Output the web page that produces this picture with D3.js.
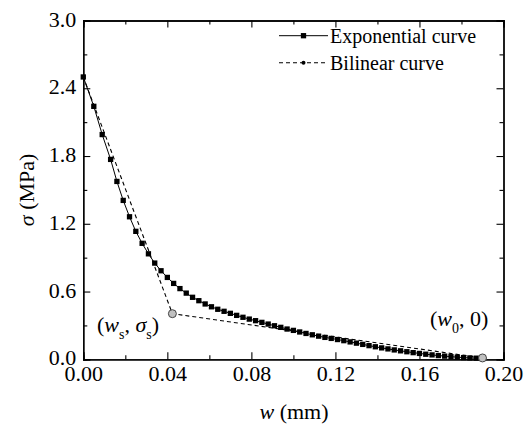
<!DOCTYPE html>
<html>
<head>
<meta charset="utf-8">
<script src="https://cdn.jsdelivr.net/npm/d3@7"></script>
<style>
  body { margin: 0; background: #fff; }
  svg text { font-family: "Liberation Serif", "Times New Roman", Times, "DejaVu Serif", serif !important; fill: #000; }
</style>
</head>
<body>
<script>
// exponential softening curve (w in mm, sigma in MPa)
const expW = [0, 0.005, 0.009, 0.013, 0.016, 0.019, 0.022, 0.025, 0.028, 0.031,
  0.034, 0.037, 0.040, 0.043, 0.046, 0.049, 0.052, 0.055, 0.058, 0.061,
  0.064, 0.067, 0.070, 0.073, 0.076, 0.079, 0.082, 0.085, 0.088, 0.091,
  0.094, 0.097, 0.100, 0.103, 0.106, 0.109, 0.112, 0.115, 0.118, 0.121,
  0.124, 0.127, 0.130, 0.133, 0.136, 0.139, 0.142, 0.145, 0.148, 0.151,
  0.154, 0.157, 0.160, 0.163, 0.166, 0.169, 0.172, 0.175, 0.178, 0.181,
  0.184, 0.187];
const expSigma = [2.50, 2.24, 1.99, 1.77, 1.575, 1.407, 1.262, 1.133, 1.027, 0.934,
  0.852, 0.784, 0.725, 0.672, 0.626, 0.586, 0.549, 0.519, 0.490, 0.465,
  0.443, 0.425, 0.407, 0.389, 0.372, 0.356, 0.342, 0.327, 0.312, 0.297,
  0.283, 0.268, 0.256, 0.242, 0.229, 0.217, 0.205, 0.194, 0.185, 0.175,
  0.165, 0.154, 0.143, 0.132, 0.121, 0.111, 0.101, 0.092, 0.083, 0.075,
  0.067, 0.059, 0.052, 0.045, 0.039, 0.033, 0.028, 0.023, 0.019, 0.015,
  0.012, 0.010];

// bilinear curve
const biW = [0, 0.0424, 0.190];
const biSigma = [2.50, 0.404, 0.012];

// highlighted points (ws, sigma_s) and (w0, 0)
const keyW = [0.0424, 0.190];
const keySigma = [0.404, 0.012];

const xTicks = [0, 0.04, 0.08, 0.12, 0.16, 0.20];
const xMinor = [0.02, 0.06, 0.10, 0.14, 0.18];
const yTicks = [0, 0.6, 1.2, 1.8, 2.4, 3.0];
const yMinor = [0.3, 0.9, 1.5, 2.1, 2.7];

const legendNames = ["Exponential curve", "Bilinear curve"];

const W = 530, H = 433;
const pLeft = 83.3, pRight = 503.5, pTop = 20.5, pBottom = 359.3;
const serif = "'Liberation Serif', 'Times New Roman', Times, serif";

const svg = d3.select("body").append("svg")
  .attr("width", W)
  .attr("height", H)
  .attr("font-family", serif);

const x = d3.scaleLinear().domain([0, 0.2]).range([pLeft, pRight]);
const y = d3.scaleLinear().domain([0, 3]).range([pBottom, pTop]);

// minor ticks first (no labels)
svg.append("g").attr("transform", `translate(0,${pBottom})`)
  .call(d3.axisBottom(x).tickValues(xMinor).tickSize(-4).tickFormat(""));
svg.append("g").attr("transform", `translate(0,${pTop})`)
  .call(d3.axisTop(x).tickValues(xMinor).tickSize(-4).tickFormat(""));
svg.append("g").attr("transform", `translate(${pLeft},0)`)
  .call(d3.axisLeft(y).tickValues(yMinor).tickSize(-4).tickFormat(""));
svg.append("g").attr("transform", `translate(${pRight},0)`)
  .call(d3.axisRight(y).tickValues(yMinor).tickSize(-4).tickFormat(""));

// major ticks
let xb = svg.append("g").attr("transform", `translate(0,${pBottom})`)
  .call(d3.axisBottom(x).tickValues(xTicks).tickSize(-7).tickPadding(6).tickFormat(d3.format(".2f")));
svg.append("g").attr("transform", `translate(0,${pTop})`)
  .call(d3.axisTop(x).tickValues(xTicks).tickSize(-7).tickFormat(""));
let yl = svg.append("g").attr("transform", `translate(${pLeft},0)`)
  .call(d3.axisLeft(y).tickValues(yTicks).tickSize(-7).tickPadding(7).tickFormat(d3.format(".1f")));
svg.append("g").attr("transform", `translate(${pRight},0)`)
  .call(d3.axisRight(y).tickValues(yTicks).tickSize(-7).tickFormat(""));

svg.selectAll("g").attr("font-family", serif);
svg.selectAll(".domain").attr("stroke", "#000").attr("stroke-width", 1.3);
svg.selectAll(".tick line").attr("stroke", "#000").attr("stroke-width", 1.1);
xb.selectAll("text").attr("font-size", 22);
yl.selectAll("text").attr("font-size", 22).attr("dy", "0.25em");

// axis titles
let xt = svg.append("text")
  .attr("x", 294).attr("y", 419)
  .attr("text-anchor", "middle")
  .attr("font-size", 22);
xt.append("tspan").attr("font-style", "italic").text("w");
xt.append("tspan").text(" (mm)");

let yt = svg.append("text")
  .attr("transform", `translate(34,${(pTop + pBottom) / 2}) rotate(-90)`)
  .attr("text-anchor", "middle")
  .attr("font-size", 22);
yt.append("tspan").attr("font-style", "italic").text("σ");
yt.append("tspan").text(" (MPa)");

// bilinear dashed curve
const biData = biW.map((w, i) => [w, biSigma[i]]);
svg.append("path")
  .datum(biData)
  .attr("fill", "none")
  .attr("stroke", "#000")
  .attr("stroke-width", 1.1)
  .attr("stroke-dasharray", "4,3")
  .attr("d", d3.line().x(d => x(d[0])).y(d => y(d[1])));

// exponential curve
const expData = expW.map((w, i) => [w, expSigma[i]]);
svg.append("path")
  .datum(expData)
  .attr("fill", "none")
  .attr("stroke", "#000")
  .attr("stroke-width", 1)
  .attr("d", d3.line().x(d => x(d[0])).y(d => y(d[1])));

const sq = 5.3;
svg.append("g").selectAll("rect")
  .data(expData)
  .join("rect")
  .attr("x", d => x(d[0]) - sq / 2)
  .attr("y", d => y(d[1]) - sq / 2)
  .attr("width", sq)
  .attr("height", sq)
  .attr("fill", "#000");

// gray key points
svg.append("g").selectAll("circle")
  .data(keyW.map((w, i) => [w, keySigma[i]]))
  .join("circle")
  .attr("cx", d => x(d[0]))
  .attr("cy", d => y(d[1]))
  .attr("r", 4)
  .attr("fill", "#c0c0c0")
  .attr("stroke", "#444")
  .attr("stroke-width", 1);

// annotations
let a1 = svg.append("text").attr("x", 97).attr("y", 332).attr("font-size", 22);
a1.append("tspan").text("(");
a1.append("tspan").attr("font-style", "italic").text("w");
a1.append("tspan").attr("dy", 7).attr("font-size", 14).text("s");
a1.append("tspan").attr("dy", -7).text(", ");
a1.append("tspan").attr("font-style", "italic").text("σ");
a1.append("tspan").attr("dy", 7).attr("font-size", 14).text("s");
a1.append("tspan").attr("dy", -7).text(")");

let a2 = svg.append("text").attr("x", 430).attr("y", 326).attr("font-size", 22);
a2.append("tspan").text("(");
a2.append("tspan").attr("font-style", "italic").text("w");
a2.append("tspan").attr("dy", 7).attr("font-size", 14).text("0");
a2.append("tspan").attr("dy", -7).text(", 0)");

// legend
const legY = [35.7, 62.7];
const leg = svg.append("g");
leg.append("line").attr("x1", 279).attr("x2", 328).attr("y1", legY[0]).attr("y2", legY[0])
  .attr("stroke", "#000").attr("stroke-width", 1);
leg.append("rect").attr("x", 303.5 - sq / 2).attr("y", legY[0] - sq / 2)
  .attr("width", sq).attr("height", sq).attr("fill", "#000");
leg.append("line").attr("x1", 279).attr("x2", 328).attr("y1", legY[1]).attr("y2", legY[1])
  .attr("stroke", "#000").attr("stroke-width", 1.1).attr("stroke-dasharray", "4,3");
leg.append("circle").attr("cx", 303.5).attr("cy", legY[1]).attr("r", 2).attr("fill", "#000");
leg.selectAll("text.lg")
  .data(legendNames)
  .join("text")
  .attr("class", "lg")
  .attr("x", 330)
  .attr("y", (d, i) => legY[i] + 7.5)
  .attr("font-size", 20)
  .text(d => d);
</script>
</body>
</html>
